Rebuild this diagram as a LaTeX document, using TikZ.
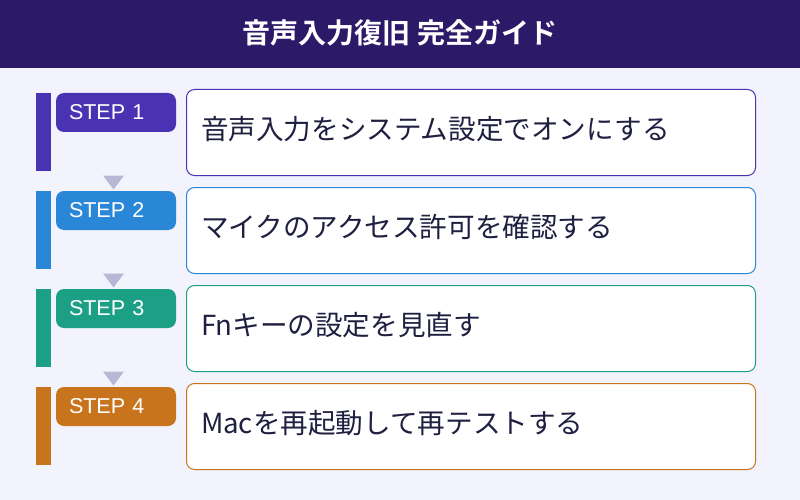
\documentclass[tikz,border=0pt]{standalone}
\usepackage{fontspec}
\setmainfont{Noto Sans CJK JP}[BoldFont={Noto Sans CJK JP Bold}]
\newfontfamily\stepfont{Liberation Sans}
\usetikzlibrary{positioning,calc}

\definecolor{headbg}{HTML}{2C1A68}
\definecolor{pagebg}{HTML}{F2F3FD}
\definecolor{inkcol}{HTML}{1F2040}
\definecolor{tricol}{HTML}{B8B8D5}
\definecolor{stepa}{HTML}{4A33B3}
\definecolor{stepb}{HTML}{2A86D6}
\definecolor{stepc}{HTML}{1BA085}
\definecolor{stepd}{HTML}{C8741C}

\begin{document}
\begin{tikzpicture}[
    x=1pt, y=1pt,
    every node/.style={outer sep=0pt},
    taskbox/.style={
        rectangle,
        draw=#1,
        line width=1pt,
        fill=white,
        rounded corners=8pt,
        text width=540pt,
        align=left,
        inner xsep=14.5pt,
        minimum height=86pt,
        text height=21pt,
        text depth=7.8pt,
        text=inkcol,
        font=\fontsize{27.6}{32}\selectfont
    },
    badge/.style={
        rectangle,
        fill=#1,
        rounded corners=8pt,
        text width=94pt,
        align=left,
        inner xsep=13pt,
        inner ysep=0pt,
        minimum height=39pt,
        text=white,
        font=\stepfont\fontsize{21.5}{24}\selectfont
    },
    sidebar/.style={
        rectangle,
        fill=#1,
        inner sep=0pt,
        minimum width=15pt,
        minimum height=78pt
    },
    tri/.style={
        fill=tricol
    }
]

    % Page and header
    \useasboundingbox (0,0) rectangle (800,-500);
    \fill[pagebg] (0,0) rectangle (800,-500);
    \fill[headbg] (0,0) rectangle (800,-68);
    \node [text=white, font=\bfseries\fontsize{28}{34}\selectfont] (title) at (400,-33) {音声入力復旧 完全ガイド};

    % Task boxes
    \node [taskbox=stepa, anchor=north west] (box1) at (186.5,-89.5) {音声入力をシステム設定でオンにする};
    \node [taskbox=stepb, below=12pt of box1] (box2) {マイクのアクセス許可を確認する};
    \node [taskbox=stepc, below=12pt of box2] (box3) {Fnキーの設定を見直す};
    \node [taskbox=stepd, below=12pt of box3] (box4) {Macを再起動して再テストする};

    % Step badges
    \node [badge=stepa, below left=3.5pt and 10.5pt of box1.north west] (badge1) {STEP 1};
    \node [badge=stepb, below left=3.5pt and 10.5pt of box2.north west] (badge2) {STEP 2};
    \node [badge=stepc, below left=3.5pt and 10.5pt of box3.north west] (badge3) {STEP 3};
    \node [badge=stepd, below left=3.5pt and 10.5pt of box4.north west] (badge4) {STEP 4};

    % Side bars
    \node [sidebar=stepa, left=5pt of badge1.north west, anchor=north east] (bar1) {};
    \node [sidebar=stepb, left=5pt of badge2.north west, anchor=north east] (bar2) {};
    \node [sidebar=stepc, left=5pt of badge3.north west, anchor=north east] (bar3) {};
    \node [sidebar=stepd, left=5pt of badge4.north west, anchor=north east] (bar4) {};

    % Arrows between steps
    \fill [tri] ($(box1.south -| badge1)+(-2.5,0)$) +(-10.5,0) -- +(10.5,0) -- +(0,-14) -- cycle;
    \fill [tri] ($(box2.south -| badge2)+(-2.5,0)$) +(-10.5,0) -- +(10.5,0) -- +(0,-14) -- cycle;
    \fill [tri] ($(box3.south -| badge3)+(-2.5,0)$) +(-10.5,0) -- +(10.5,0) -- +(0,-14) -- cycle;

\end{tikzpicture}
\end{document}
